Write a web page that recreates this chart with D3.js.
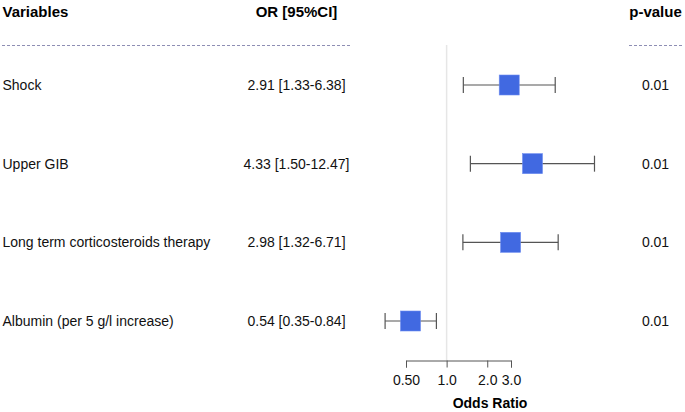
<!DOCTYPE html>
<html>
<head>
<meta charset="utf-8">
<script src="https://cdn.jsdelivr.net/npm/d3@7"></script>
<style>
html,body{margin:0;padding:0;background:#fff;}
svg{display:block;font-family:"Liberation Sans",Arial,Helvetica,sans-serif;}
</style>
</head>
<body>
<svg id="chart" width="685" height="412"></svg>
<script>
const variables = ["Shock", "Upper GIB", "Long term corticosteroids therapy", "Albumin (per 5 g/l increase)"];
const orValues = [2.91, 4.33, 2.98, 0.54];
const ciLower = [1.33, 1.50, 1.32, 0.35];
const ciUpper = [6.38, 12.47, 6.71, 0.84];
const pValues = ["0.01", "0.01", "0.01", "0.01"];
const tickValues = [0.5, 1, 2, 3];
const tickLabels = ["0.50", "1.0", "2.0", "3.0"];
const headers = ["Variables", "OR [95%CI]", "p-value"];

const svg = d3.select("#chart");
const fmt = d3.format(".2f");
const orText = orValues.map((v, i) => `${fmt(v)} [${fmt(ciLower[i])}-${fmt(ciUpper[i])}]`);

const x = d3.scaleLog().domain([0.5, 3]).range([406, 511]);
const y = d3.scalePoint().domain(d3.range(variables.length)).range([85, 321]);
const fs = 14;

// headers
const hy = 17;
svg.append("text").attr("x", 2.5).attr("y", hy).attr("font-size", 15).attr("font-weight", "bold").attr("fill", "#000").text(headers[0]);
svg.append("text").attr("x", 296.5).attr("y", hy).attr("text-anchor", "middle").attr("font-size", 15).attr("font-weight", "bold").attr("fill", "#000").text(headers[1]);
svg.append("text").attr("x", 655.5).attr("y", hy).attr("text-anchor", "middle").attr("font-size", 15).attr("font-weight", "bold").attr("fill", "#000").text(headers[2]);

// dashed separators
[[2, 350], [629, 683]].forEach(([a, b]) => {
  svg.append("line").attr("x1", a).attr("x2", b).attr("y1", 45.5).attr("y2", 45.5)
    .attr("stroke", "#8e8eb4").attr("stroke-width", 1).attr("stroke-dasharray", "3,2");
});

// reference line at 1
svg.append("line").attr("x1", x(1)).attr("x2", x(1)).attr("y1", 45).attr("y2", 360)
  .attr("stroke", "#e6e6e6").attr("stroke-width", 1.5);

// rows
const rows = svg.append("g").selectAll("g").data(variables).join("g");
rows.append("text").attr("x", 2.5).attr("y", (d, i) => y(i) + 5).attr("font-size", fs).attr("fill", "#111").text(d => d);
rows.append("text").attr("x", 296.5).attr("y", (d, i) => y(i) + 5).attr("text-anchor", "middle").attr("font-size", fs).attr("fill", "#111").text((d, i) => orText[i]);
rows.append("text").attr("x", 655.5).attr("y", (d, i) => y(i) + 5).attr("text-anchor", "middle").attr("font-size", fs).attr("fill", "#111").text((d, i) => pValues[i]);

// whiskers
rows.append("line").attr("x1", (d, i) => x(ciLower[i])).attr("x2", (d, i) => x(ciUpper[i]))
  .attr("y1", (d, i) => y(i)).attr("y2", (d, i) => y(i)).attr("stroke", "#555").attr("stroke-width", 1.2);
rows.append("line").attr("x1", (d, i) => x(ciLower[i])).attr("x2", (d, i) => x(ciLower[i]))
  .attr("y1", (d, i) => y(i) - 8).attr("y2", (d, i) => y(i) + 8).attr("stroke", "#555").attr("stroke-width", 1.2);
rows.append("line").attr("x1", (d, i) => x(ciUpper[i])).attr("x2", (d, i) => x(ciUpper[i]))
  .attr("y1", (d, i) => y(i) - 8).attr("y2", (d, i) => y(i) + 8).attr("stroke", "#555").attr("stroke-width", 1.2);

// boxes
const bs = 20;
rows.append("rect").attr("x", (d, i) => x(orValues[i]) - bs / 2).attr("y", (d, i) => y(i) - bs / 2)
  .attr("width", bs).attr("height", bs).attr("fill", "#4169e1").attr("stroke", "#6d8cf0").attr("stroke-width", 0.6);

// axis
const axis = d3.axisBottom(x).tickValues(tickValues).tickFormat((d, i) => tickLabels[i]).tickSizeOuter(0).tickSize(7);
const ag = svg.append("g").attr("transform", "translate(0,360.5)").call(axis);
ag.select(".domain").attr("stroke", "#555");
ag.selectAll(".tick line").attr("stroke", "#555");
ag.selectAll(".tick text").attr("font-size", fs).attr("fill", "#111").attr("dy", "1.05em")
  .attr("font-family", "'Liberation Sans',Arial,Helvetica,sans-serif");

svg.append("text").attr("x", 490).attr("y", 408).attr("text-anchor", "middle").attr("font-size", fs)
  .attr("font-weight", "bold").attr("fill", "#000").text("Odds Ratio");
</script>
</body>
</html>
